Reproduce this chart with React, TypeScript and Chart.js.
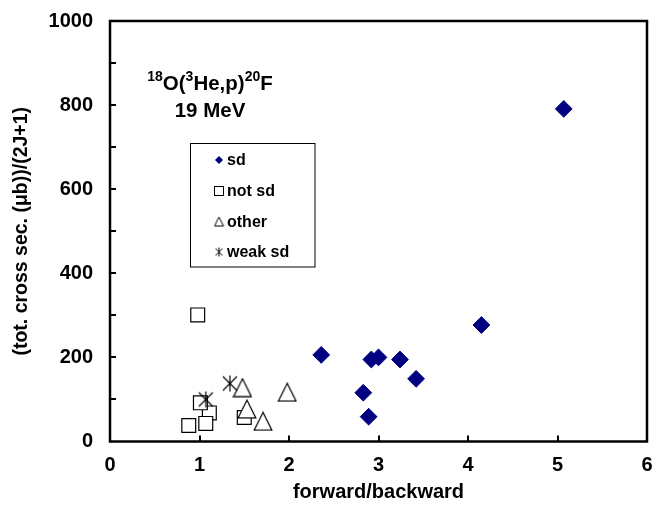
import React, { useEffect, useRef } from 'react';
import { Chart, registerables } from 'chart.js';

Chart.register(...registerables);

// ---- data ----
const sdX = [2.36, 2.83, 2.89, 2.92, 3.0, 3.24, 3.42, 4.15, 5.07];
const sdY = [206, 116, 59, 195, 200, 195, 149, 277, 791];
const notSdX = [0.98, 0.88, 1.11, 1.01, 1.07, 1.5];
const notSdY = [301, 38, 68, 92, 43, 57];
const otherX = [1.48, 1.53, 1.71, 1.98];
const otherY = [128, 77, 48, 117];
const weakX = [1.34, 1.07];
const weakY = [138, 100];

const seriesLabels = ['sd', 'not sd', 'other', 'weak sd'];
const xTickValues = [0, 1, 2, 3, 4, 5, 6];
const yTickValues = [0, 100, 200, 300, 400, 500, 600, 700, 800, 900, 1000];
const yLabelValues = [0, 200, 400, 600, 800, 1000];

const xTitle = 'forward/backward';
const yTitle = '(tot. cross sec. (\u03bcb))/(2J+1)';

const FONT = "'Liberation Sans', Arial, Helvetica, sans-serif";
const NAVY = '#000080';

function makeTriangle(size: number, lw: number): HTMLCanvasElement {
  const c = document.createElement('canvas');
  c.width = size;
  c.height = size;
  const g = c.getContext('2d')!;
  const m = lw / 2 + 0.5;
  g.beginPath();
  g.moveTo(size / 2, m);
  g.lineTo(size - m, size - m);
  g.lineTo(m, size - m);
  g.closePath();
  g.fillStyle = '#fff';
  g.fill();
  g.lineWidth = lw;
  g.strokeStyle = '#000';
  g.stroke();
  return c;
}

function makeStar(size: number, lw: number): HTMLCanvasElement {
  const c = document.createElement('canvas');
  c.width = size;
  c.height = size;
  const g = c.getContext('2d')!;
  const m = 1;
  g.beginPath();
  g.moveTo(size / 2, m);
  g.lineTo(size / 2, size - m);
  g.moveTo(m + 1, m + 1);
  g.lineTo(size - m - 1, size - m - 1);
  g.moveTo(size - m - 1, m + 1);
  g.lineTo(m + 1, size - m - 1);
  g.lineWidth = lw;
  g.strokeStyle = '#000';
  g.stroke();
  return c;
}

const zip = (xs: number[], ys: number[]) => xs.map((x, i) => ({ x, y: ys[i] }));

export default function App() {
  const ref = useRef<HTMLCanvasElement | null>(null);

  useEffect(() => {
    document.body.style.margin = '0';
    const canvas = ref.current!;
    const triImg = makeTriangle(20, 1.2);
    const starImg = makeStar(18, 1.2);
    const triSmall = makeTriangle(11, 1);
    const starSmall = makeStar(11, 1);

    const overlay = {
      id: 'overlay',
      afterDraw(chart: any) {
        const ctx = chart.ctx as CanvasRenderingContext2D;
        const a = chart.chartArea;
        const xs = chart.scales.x;
        const ys = chart.scales.y;
        ctx.save();
        // frame
        ctx.strokeStyle = '#000';
        ctx.lineWidth = 2.5;
        ctx.strokeRect(a.left, a.top, a.right - a.left, a.bottom - a.top);
        // inward ticks
        ctx.lineWidth = 2;
        ctx.beginPath();
        yTickValues.forEach((v) => {
          if (v === 0 || v === 1000) return;
          const py = Math.round(ys.getPixelForValue(v));
          ctx.moveTo(a.left, py);
          ctx.lineTo(a.left + 6, py);
        });
        xTickValues.forEach((v) => {
          if (v === 0 || v === 6) return;
          const px = Math.round(xs.getPixelForValue(v));
          ctx.moveTo(px, a.bottom);
          ctx.lineTo(px, a.bottom - 6);
        });
        ctx.stroke();

        // title with superscripts
        const big = `bold 20.5px ${FONT}`;
        const sup = `bold 14px ${FONT}`;
        const parts: [string, boolean][] = [
          ['18', true], ['O(', false], ['3', true], ['He,p)', false], ['20', true], ['F', false],
        ];
        let total = 0;
        parts.forEach(([t, s]) => {
          ctx.font = s ? sup : big;
          total += ctx.measureText(t).width;
        });
        const cx = 210;
        let tx = cx - total / 2;
        const base1 = 90;
        ctx.fillStyle = '#000';
        ctx.textBaseline = 'alphabetic';
        ctx.textAlign = 'left';
        parts.forEach(([t, s]) => {
          ctx.font = s ? sup : big;
          ctx.fillText(t, tx, s ? base1 - 9 : base1);
          tx += ctx.measureText(t).width;
        });
        ctx.font = big;
        ctx.textAlign = 'center';
        ctx.fillText('19 MeV', cx, 117);

        // legend
        const lx = 190.5, ly = 143.5, lw = 124.5, lh = 123.5;
        ctx.fillStyle = '#fff';
        ctx.fillRect(lx, ly, lw, lh);
        ctx.strokeStyle = '#000';
        ctx.lineWidth = 1;
        ctx.strokeRect(lx, ly, lw, lh);
        const rows = [160, 191, 221.5, 252];
        const mx = 219;
        // diamond
        ctx.fillStyle = NAVY;
        ctx.beginPath();
        ctx.moveTo(mx - 4, rows[0]);
        ctx.lineTo(mx, rows[0] - 4);
        ctx.lineTo(mx + 4, rows[0]);
        ctx.lineTo(mx, rows[0] + 4);
        ctx.closePath();
        ctx.fill();
        // square
        ctx.strokeStyle = '#000';
        ctx.lineWidth = 1;
        ctx.strokeRect(mx - 4.5, rows[1] - 4.5, 9, 9);
        // triangle / star
        ctx.drawImage(triSmall, mx - 5.5, rows[2] - 5.5);
        ctx.drawImage(starSmall, mx - 5.5, rows[3] - 5.5);
        ctx.fillStyle = '#000';
        ctx.font = `bold 16px ${FONT}`;
        ctx.textAlign = 'left';
        ctx.textBaseline = 'middle';
        seriesLabels.forEach((t, i) => ctx.fillText(t, 227, rows[i] + 1));
        ctx.restore();
      },
    };

    const tickFont = { family: FONT, size: 20, weight: 'bold' as const };
    const zeroPad = (s: any) => {
      s.paddingLeft = 0;
      s.paddingRight = 0;
      s.paddingTop = 0;
      s.paddingBottom = 0;
    };

    const chart = new Chart(canvas, {
      type: 'scatter',
      data: {
        datasets: [
          {
            label: seriesLabels[3],
            data: zip(weakX, weakY),
            pointStyle: starImg,
            order: 0,
          },
          {
            label: seriesLabels[2],
            data: zip(otherX, otherY),
            pointStyle: triImg,
            order: 1,
          },
          {
            label: seriesLabels[1],
            data: zip(notSdX, notSdY),
            pointStyle: 'rect',
            pointRadius: 9.8,
            backgroundColor: '#fff',
            borderColor: '#000',
            borderWidth: 1.2,
            order: 2,
          },
          {
            label: seriesLabels[0],
            data: zip(sdX, sdY),
            pointStyle: 'rectRot',
            pointRadius: 8.4,
            backgroundColor: NAVY,
            borderColor: NAVY,
            borderWidth: 1,
            order: 3,
          },
        ] as any,
      },
      options: {
        animation: false,
        responsive: false,
        events: [],
        layout: { autoPadding: false, padding: { left: 0, top: 21, right: 6, bottom: 0 } },
        plugins: {
          legend: { display: false },
          tooltip: { enabled: false },
        },
        scales: {
          x: {
            type: 'linear',
            min: 0,
            max: 6,
            afterBuildTicks: (s: any) => {
              s.ticks = xTickValues.map((v) => ({ value: v }));
            },
            afterFit: (s: any) => {
              s.height = 72.5;
              zeroPad(s);
            },
            grid: { display: false, drawTicks: false },
            border: { display: false },
            ticks: {
              font: tickFont,
              color: '#000',
              padding: 12,
              maxRotation: 0,
              callback: (v: any) => String(v),
            },
            title: {
              display: true,
              text: xTitle,
              color: '#000',
              font: tickFont,
              padding: { top: 0, bottom: 10 },
            },
          },
          y: {
            type: 'linear',
            min: 0,
            max: 1000,
            afterBuildTicks: (s: any) => {
              s.ticks = yLabelValues.map((v) => ({ value: v }));
            },
            afterFit: (s: any) => {
              s.width = 110;
              zeroPad(s);
            },
            grid: { display: false, drawTicks: false },
            border: { display: false },
            ticks: { font: tickFont, color: '#000', padding: 17, callback: (v: any) => String(v) },
            title: {
              display: true,
              text: yTitle,
              color: '#000',
              font: { family: FONT, size: 19.5, weight: 'bold' },
              padding: { top: 9.5, bottom: 0 },
            },
          },
        },
      } as any,
      plugins: [overlay],
    });
    return () => chart.destroy();
  }, []);

  return (
    <div style={{ position: 'absolute', left: 0, top: 0, width: 653, height: 514, background: '#fff' }}>
      <canvas ref={ref} width={653} height={514} style={{ display: 'block' }} />
    </div>
  );
}
